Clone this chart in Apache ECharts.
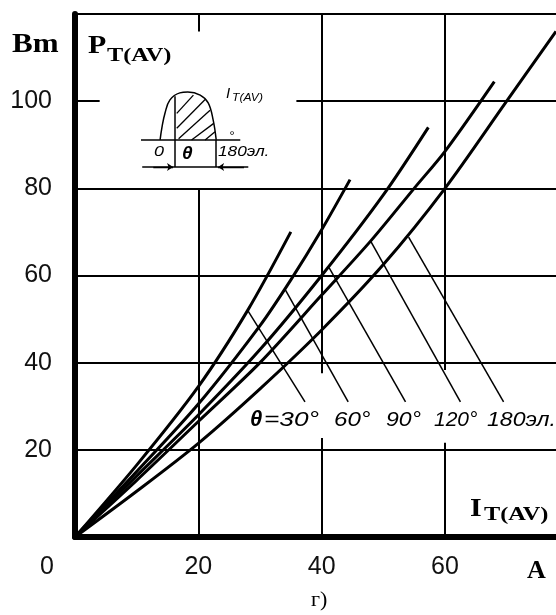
<!DOCTYPE html>
<html><head><meta charset="utf-8">
<script src="https://cdn.jsdelivr.net/npm/echarts@6/dist/echarts.min.js"></script>
<style>html,body{margin:0;padding:0;background:#fff}#c{width:556px;height:615px}</style>
</head><body><div id="c"></div>
<script>
// ---- axes (the printed plot is cut at the right edge just before 80 A) ----
const xMin = 0, xMax = 78, xStep = 20;
const yMin = 0, yMax = 120, yStep = 20;

// ---- power loss curves P_T(AV) vs I_T(AV), one per conduction angle ----
const curve30  = [[0,0],[10,16.5],[20,34.5],[28,52],[35,70]];
const curve60  = [[0,0],[10,15],[20,30.5],[30,48.5],[35,59],[40,70.5],[44.6,82]];
const curve90  = [[0,0],[10,14],[20,28],[30,43],[40,60],[50,78.5],[57.3,94]];
const curve120 = [[0,0],[10,13],[20,26.5],[30,40],[40,55.5],[48,68],[55,80],[60,88.5],[68,104.5]];
const curve180 = [[0,0],[10,10.5],[20,21.5],[30,34],[40,47.5],[50,62.5],[60,80],[70,100],[78,116]];

// ---- leader lines from curves to angle labels ----
const leaders = [
  [[28,52],[37.3,31]],
  [[34,57],[44.3,31]],
  [[41.2,61.8],[53.6,31]],
  [[47.9,68],[62.5,31]],
  [[54.1,68.8],[69.5,31]]
];

// ---- grid lines (drawn partially, as in the original) ----
const gridSegments = [
  [[20,120],[20,116]], [[20,80],[20,0]],
  [[40,120],[40,37.6]], [[40,22.7],[40,0]],
  [[60,120],[60,38.3]], [[60,21.6],[60,0]],
  [[0,100],[4,100]], [[35.9,100],[78,100]],
  [[0,80],[78,80]], [[0,60],[78,60]], [[0,40],[78,40]], [[0,20],[78,20]],
  [[0,120],[78,120]]
];

// ---- inset sketch (current pulse) in chart units ----
const insetWave = [[13.8,91.1],[14.1,94],[14.6,97.3],[15.4,100.3],[17.0,101.9],[18.3,102.1],[20.3,101.4],[21.6,99.6],[22.4,95.7],[22.9,91.1]];
const insetFrame = [
  [[10.7,91.1],[26.8,91.1]],
  [[10.9,84.9],[28.1,84.9]],
  [[16.2,101.1],[16.2,84.9]],
  [[22.9,91.1],[22.9,84.9]]
];
const insetHatch = [
  [[16.5,97.2],[19.2,101.4]],
  [[16.5,93.8],[21.1,100.4]],
  [[16.8,91.4],[21.9,97.9]],
  [[18.9,91.1],[22.5,94.9]],
  [[21.1,91.1],[22.7,93.0]]
];
const insetArrows = [
  [[12.7,84.9],[15.9,84.9]],
  [[27.4,84.9],[23.2,84.9]]
];

const chart = echarts.init(document.getElementById('c'), null, {renderer:'canvas'});

const curveStyle = {color:'#000', width:3};
function curve(data){
  return {type:'line', data:data, symbol:'none', smooth:0.3, lineStyle:curveStyle, z:5, silent:true};
}
function segs(list, width, extra){
  return Object.assign({
    type:'lines', coordinateSystem:'cartesian2d', silent:true,
    data:list.map(c=>({coords:c})),
    lineStyle:{color:'#000', width:width, opacity:1, curveness:0}, z:4
  }, extra||{});
}

const numFont = '"Liberation Sans", Arial, sans-serif';
const serif = '"Liberation Serif", "Times New Roman", serif';
const ital = 'italic 21px "Liberation Sans", Arial, sans-serif';

function txt(x, y, text, font, opts){
  return Object.assign({
    type:'text', x:x, y:y, silent:true,
    style:{text:text, font:font, fill:'#000', align:'left', verticalAlign:'middle'}
  }, opts||{});
}

chart.setOption({
  animation:false,
  backgroundColor:'#fff',
  grid:{left:75, right:0, top:14, bottom:78, containLabel:false},
  xAxis:{
    type:'value', min:xMin, max:xMax, interval:xStep,
    axisLine:{show:true, onZero:false, lineStyle:{color:'#000', width:6}},
    axisTick:{show:false}, splitLine:{show:false},
    axisLabel:{
      margin:18, color:'#111', fontSize:25, fontFamily:numFont,
      showMaxLabel:false,
      formatter:function(v){ if(v===0) return '{z|0}'; if(v>60) return ''; return String(v); },
      rich:{z:{fontSize:25, fontFamily:numFont, color:'#111', padding:[0,56,0,0]}}
    }
  },
  yAxis:{
    type:'value', min:yMin, max:yMax, interval:yStep,
    axisLine:{show:true, onZero:false, lineStyle:{color:'#000', width:6}},
    axisTick:{show:false}, splitLine:{show:false},
    axisLabel:{
      margin:23, color:'#111', fontSize:25, fontFamily:numFont,
      formatter:function(v){ return (v===0||v===120) ? '' : String(v); }
    }
  },
  series:[
    segs(gridSegments, 2),
    segs(leaders, 1.5),
    curve(curve30), curve(curve60), curve(curve90), curve(curve120), curve(curve180),
    {type:'line', data:insetWave, symbol:'none', smooth:0.4, lineStyle:{color:'#000', width:1.5}, silent:true, z:6},
    segs(insetFrame, 1.5),
    segs(insetHatch, 1.3),
    segs(insetArrows, 1.3, {symbol:['none','arrow'], symbolSize:6})
  ],
  graphic:[
    txt(12, 45, 'Bm', 'bold 27px ' + serif, {scaleX:1.15}),
    txt(88, 46, 'P', 'bold 26px ' + serif, {scaleX:1.15}),
    txt(107, 56, 'T(AV)', 'bold 19px ' + serif, {scaleX:1.28}),
    txt(470, 509, 'I', 'bold 26px ' + serif, {scaleX:1.15}),
    txt(484, 515, 'T(AV)', 'bold 19px ' + serif, {scaleX:1.28}),
    txt(527, 571, 'A', 'bold 26px ' + serif),
    txt(311, 600, 'г)', '22px ' + serif),
    // inset labels
    txt(226, 94, 'I', 'italic 15px ' + numFont),
    txt(232, 98, 'T(AV)', 'italic 11px ' + numFont, {scaleX:1.1}),
    txt(154, 152, '0', 'italic 15px ' + numFont, {scaleX:1.2}),
    txt(182, 154, 'θ', 'bold italic 19px ' + numFont),
    txt(218, 152, '180эл.', 'italic 15px ' + numFont, {scaleX:1.15}),
    txt(229, 136, '°', 'italic 13px ' + numFont),
    // angle labels
    txt(250, 420, 'θ', 'bold italic 22px ' + numFont),
    txt(264, 420, '=30°', ital, {scaleX:1.25}),
    txt(334, 420, '60°', ital, {scaleX:1.15}),
    txt(386, 420, '90°', ital, {scaleX:1.1}),
    txt(434, 420, '120°', ital, {scaleX:1.0}),
    txt(487, 420, '180эл.', ital, {scaleX:1.1})
  ]
});
</script></body></html>
